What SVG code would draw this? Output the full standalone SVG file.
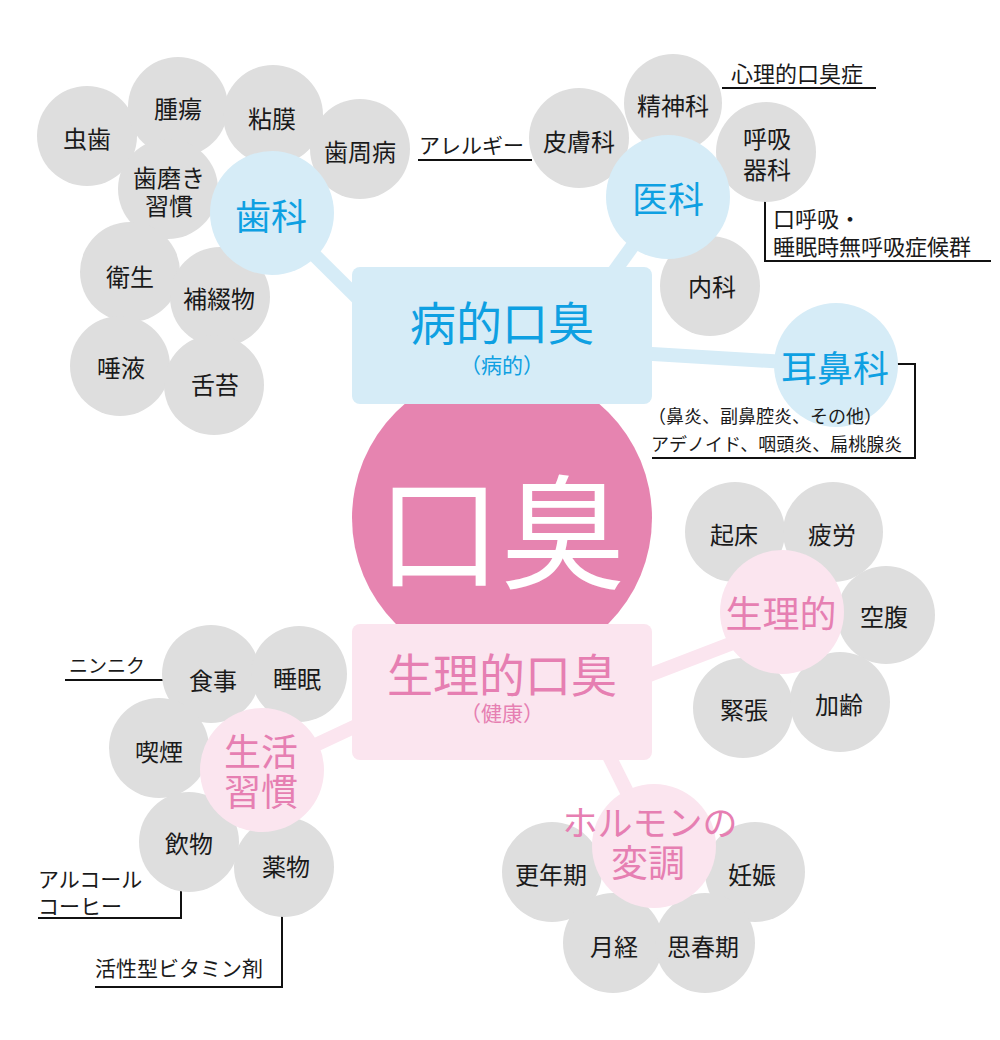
<svg xmlns="http://www.w3.org/2000/svg" width="1000" height="1040" viewBox="0 0 1000 1040">
<style>
text{font-family:"Noto Sans CJK JP","Noto Sans CJK SC",sans-serif;text-anchor:middle;dominant-baseline:central}
.g{fill:#dedede}
.lb{fill:#d6ecf7}
.lp{fill:#fbe5ef}
.t{font-size:24px;fill:#1a1a1a}
.hb{font-size:36px;fill:#0ea0e2}
.hp{font-size:37px;fill:#e67fb2}
.c{font-size:21px;fill:#1a1a1a;text-anchor:start}
.cs{font-size:18px;fill:#1a1a1a;text-anchor:start}
.cl{fill:none;stroke:#111;stroke-width:2}
.kb{stroke:#d6ecf7;stroke-width:14;fill:none}
.kp{stroke:#fbe5ef;stroke-width:14;fill:none}
</style>
<rect width="1000" height="1040" fill="#fff"/>
<g id="connectors">
<line class="kb" x1="272" y1="213" x2="410" y2="350"/>
<line class="kb" x1="668" y1="197" x2="590" y2="305"/>
<line class="kb" x1="502" y1="345" x2="836" y2="365"/>
<line class="kp" x1="600" y1="694" x2="782" y2="624"/>
<line class="kp" x1="262" y1="770" x2="420" y2="696"/>
<line class="kp" x1="590" y1="718" x2="654" y2="846"/>
<polyline class="cl" points="722,88 876,88"/>
<polyline class="cl" points="418,160 532,160"/>
<polyline class="cl" points="765,200 765,261 991,261"/>
<polyline class="cl" points="897,364 915,364 915,458 652,458"/>
<polyline class="cl" points="65,680 163,680"/>
<polyline class="cl" points="181,890 181,918 38,918"/>
<polyline class="cl" points="282,915 282,987 95,987"/>
</g>
<g id="center"><circle cx="502" cy="518" r="150" fill="#e684b0"/><text x="501" y="525" style="font-size:124px;fill:#fff">口臭</text></g>
<g id="box-byoteki"><rect x="352" y="267" width="300" height="137" rx="8" class="lb"/><text x="502" y="320" style="font-size:46px;fill:#0ea0e2">病的口臭<tspan x="502" dy="44" style="font-size:21px">（病的）</tspan></text></g>
<g id="box-seiri"><rect x="352" y="624" width="300" height="136" rx="8" class="lp"/><text x="502" y="672" style="font-size:46px;fill:#e67fb2">生理的口臭<tspan x="502" dy="40" style="font-size:21px">（健康）</tspan></text></g>

<g id="n-mushiba"><circle class="g" cx="87" cy="136" r="50"/><text class="t" x="87" y="137">虫歯</text></g>
<g id="n-shuyo"><circle class="g" cx="178" cy="107" r="50"/><text class="t" x="178" y="107">腫瘍</text></g>
<g id="n-nenmaku"><circle class="g" cx="273" cy="115" r="50"/><text class="t" x="272" y="117">粘膜</text></g>
<g id="n-shishubyo"><circle class="g" cx="360" cy="149" r="50"/><text class="t" x="360" y="150">歯周病</text></g>
<g id="n-hamigaki"><circle class="g" cx="168" cy="189" r="50"/><text class="t" x="169" y="176">歯磨き<tspan x="169" dy="28">習慣</tspan></text></g>
<g id="n-eisei"><circle class="g" cx="130" cy="272" r="50"/><text class="t" x="130" y="275">衛生</text></g>
<g id="n-hotetsu"><circle class="g" cx="220" cy="297" r="50"/><text class="t" x="219" y="297">補綴物</text></g>
<g id="n-daeki"><circle class="g" cx="120" cy="366" r="50"/><text class="t" x="121" y="366">唾液</text></g>
<g id="n-zettai"><circle class="g" cx="214" cy="385" r="50"/><text class="t" x="215" y="383">舌苔</text></g>
<g id="h-shika"><circle class="lb" cx="272" cy="213" r="62"/><text class="hb" x="271" y="214">歯科</text></g>

<g id="n-hifuka"><circle class="g" cx="579" cy="138" r="50"/><text class="t" x="579" y="140">皮膚科</text></g>
<g id="n-seishinka"><circle class="g" cx="673" cy="103" r="49"/><text class="t" x="673" y="104">精神科</text></g>
<g id="n-kokyuki"><circle class="g" cx="766" cy="152" r="50"/><text class="t" x="767" y="137">呼吸<tspan x="767" dy="31">器科</tspan></text></g>
<g id="n-naika"><circle class="g" cx="710" cy="286" r="50"/><text class="t" x="712" y="285">内科</text></g>
<g id="h-ika"><circle class="lb" cx="668" cy="197" r="62"/><text class="hb" x="668" y="197">医科</text></g>
<g id="h-jibika"><circle class="lb" cx="836" cy="365" r="62"/><text class="hb" x="835" y="366">耳鼻科</text></g>

<g id="n-kisho"><circle class="g" cx="735" cy="532" r="50"/><text class="t" x="734" y="533">起床</text></g>
<g id="n-hiro"><circle class="g" cx="833" cy="532" r="50"/><text class="t" x="832" y="533">疲労</text></g>
<g id="n-kufuku"><circle class="g" cx="886" cy="615" r="49"/><text class="t" x="884" y="615">空腹</text></g>
<g id="n-kincho"><circle class="g" cx="743" cy="708" r="50"/><text class="t" x="744" y="708">緊張</text></g>
<g id="n-karei"><circle class="g" cx="840" cy="702" r="50"/><text class="t" x="839" y="703">加齢</text></g>
<g id="h-seiriteki"><circle class="lp" cx="782" cy="612" r="62"/><text class="hp" x="781" y="612">生理的</text></g>

<g id="n-konenki"><circle class="g" cx="552" cy="872" r="50"/><text class="t" x="551" y="873">更年期</text></g>
<g id="n-ninshin"><circle class="g" cx="755" cy="872" r="50"/><text class="t" x="752" y="873">妊娠</text></g>
<g id="n-gekkei"><circle class="g" cx="613" cy="943" r="50"/><text class="t" x="614" y="945">月経</text></g>
<g id="n-shishunki"><circle class="g" cx="705" cy="943" r="50"/><text class="t" x="703" y="945">思春期</text></g>
<g id="h-hormone"><circle class="lp" cx="654" cy="846" r="62"/><text class="hp" x="650" y="820" style="font-size:35px">ホルモンの<tspan x="648" dy="41" style="font-size:37px">変調</tspan></text></g>

<g id="n-shokuji"><circle class="g" cx="211" cy="674" r="49"/><text class="t" x="213" y="679">食事</text></g>
<g id="n-suimin"><circle class="g" cx="299" cy="674" r="48"/><text class="t" x="297" y="677">睡眠</text></g>
<g id="n-kitsuen"><circle class="g" cx="159" cy="748" r="50"/><text class="t" x="159" y="750">喫煙</text></g>
<g id="n-inryo"><circle class="g" cx="189" cy="842" r="50"/><text class="t" x="189" y="842">飲物</text></g>
<g id="n-yakubutsu"><circle class="g" cx="284" cy="867" r="50"/><text class="t" x="286" y="865">薬物</text></g>
<g id="h-seikatsu"><circle class="lp" cx="262" cy="770" r="62"/><text class="hp" x="261" y="750">生活<tspan x="261" dy="40">習慣</tspan></text></g>

<g id="notes">
<text class="c" x="731" y="72" style="font-size:22px">心理的口臭症</text>
<text class="c" x="419" y="144">アレルギー</text>
<text class="c" x="773" y="217" style="font-size:22px">口呼吸・<tspan x="773" dy="28">睡眠時無呼吸症候群</tspan></text>
<text class="cs" x="648" y="415">（鼻炎、副鼻腔炎、その他）<tspan x="651" dy="28">アデノイド、咽頭炎、扁桃腺炎</tspan></text>
<text class="c" x="69" y="664" style="font-size:19px">ニンニク</text>
<text class="c" x="38" y="878">アルコール<tspan x="38" dy="27">コーヒー</tspan></text>
<text class="c" x="95" y="967">活性型ビタミン剤</text>
</g>
</svg>
